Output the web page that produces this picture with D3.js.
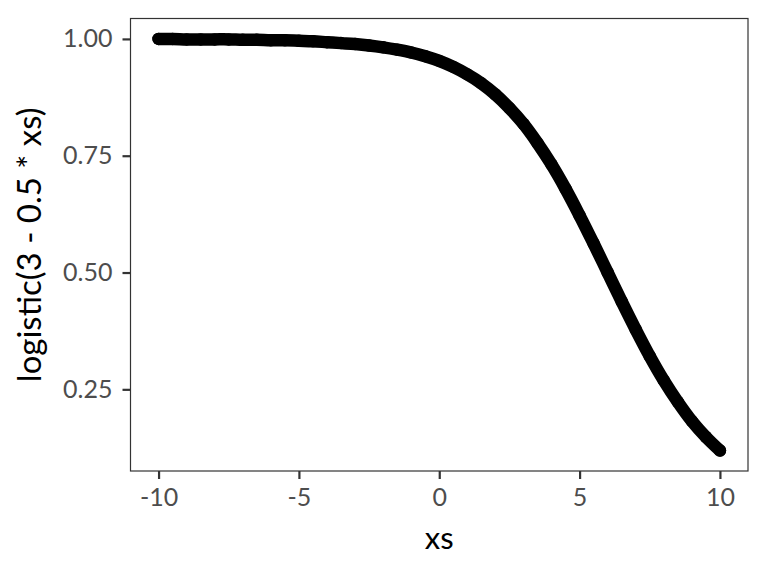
<!DOCTYPE html>
<html>
<head>
<meta charset="utf-8">
<script src="https://cdn.jsdelivr.net/npm/d3@7"></script>
<style>
  html, body { margin: 0; padding: 0; background: #fff; }
  svg text { font-family: Lato, "Noto Sans", sans-serif; }
</style>
</head>
<body>
<div id="chart"></div>
<script>
// values
const xs = [-10, -9.5, -9, -8.5, -8, -7.5, -7, -6.5, -6, -5.5, -5, -4.5, -4, -3.5, -3, -2.5, -2, -1.5, -1, -0.5,
  0, 0.5, 1, 1.5, 2, 2.5, 3, 3.5, 4, 4.5, 5, 5.5, 6, 6.5, 7, 7.5, 8, 8.5, 9, 9.5, 10];
const ys = [1.000, 1.000, 0.999, 0.999, 0.999, 0.999, 0.998, 0.998, 0.997, 0.997, 0.996, 0.995, 0.993, 0.991, 0.989, 0.986, 0.982, 0.977, 0.971, 0.963,
  0.953, 0.940, 0.924, 0.905, 0.881, 0.852, 0.818, 0.777, 0.731, 0.679, 0.622, 0.562, 0.500, 0.438, 0.378, 0.321, 0.269, 0.223, 0.182, 0.148, 0.119];
const xTicks = [-10, -5, 0, 5, 10];
const yTicks = [0.25, 0.50, 0.75, 1.00];

const width = 768, height = 576;
const margin = { top: 18.5, right: 20, bottom: 105, left: 130.5 };

const svg = d3.select('#chart').append('svg')
  .attr('width', width)
  .attr('height', height);

const x = d3.scaleLinear()
  .domain([-11, 11])
  .range([margin.left, width - margin.right]);

const y = d3.scaleLinear()
  .domain([0.0752, 1.0437])
  .range([height - margin.bottom, margin.top]);

const data = xs.map((v, i) => ({ x: v, y: ys[i] }));

// POINTS (drawn as a thick path plus dots)
svg.append('path')
  .datum(data)
  .attr('fill', 'none')
  .attr('stroke', '#000')
  .attr('stroke-width', 12.5)
  .attr('stroke-linecap', 'round')
  .attr('stroke-linejoin', 'round')
  .attr('d', d3.line().x(d => x(d.x)).y(d => y(d.y)).curve(d3.curveCatmullRom));

svg.append('g')
  .selectAll('circle')
  .data(data)
  .join('circle')
  .attr('cx', d => x(d.x))
  .attr('cy', d => y(d.y))
  .attr('r', 6.25)
  .attr('fill', '#000');

// PANEL BORDER
svg.append('rect')
  .attr('x', margin.left)
  .attr('y', margin.top)
  .attr('width', width - margin.right - margin.left)
  .attr('height', height - margin.bottom - margin.top)
  .attr('fill', 'none')
  .attr('stroke', '#333')
  .attr('stroke-width', 1.2);

// AXES
const gx = svg.append('g')
  .attr('transform', `translate(0,${height - margin.bottom})`)
  .call(d3.axisBottom(x).tickValues(xTicks).tickSize(8).tickPadding(9).tickFormat(d => String(d)));
gx.select('.domain').remove();

const gy = svg.append('g')
  .attr('transform', `translate(${margin.left},0)`)
  .call(d3.axisLeft(y).tickValues(yTicks).tickSize(8).tickPadding(10).tickFormat(d3.format('.2f')));
gy.select('.domain').remove();

svg.selectAll('.tick line').attr('stroke', '#333').attr('stroke-width', 2.2);
svg.selectAll('.tick text').attr('fill', '#4d4d4d').style('font-size', '25px');

// TITLES
svg.append('text')
  .attr('x', (margin.left + width - margin.right) / 2)
  .attr('y', 549)
  .attr('text-anchor', 'middle')
  .style('font-size', '31px')
  .attr('fill', '#000')
  .text('xs');

svg.append('text')
  .attr('transform', `translate(41,${(margin.top + height - margin.bottom) / 2}) rotate(-90)`)
  .attr('text-anchor', 'middle')
  .style('font-size', '33px')
  .attr('fill', '#000')
  .text('logistic(3 - 0.5 * xs)');
</script>
</body>
</html>
